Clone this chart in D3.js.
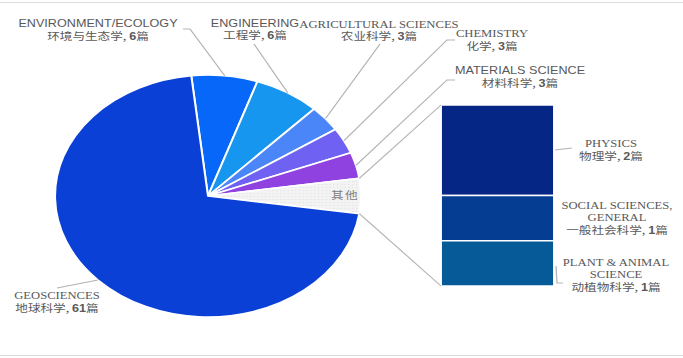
<!DOCTYPE html>
<html>
<head>
<meta charset="utf-8">
<script src="https://cdn.jsdelivr.net/npm/d3@7"></script>
<style>
  body { margin: 0; background: #fff; }
  svg { display: block; }
</style>
</head>
<body>
<svg id="chart" width="683" height="358"></svg>
<script>
// ---- data ----
const pieCategories = ["ENVIRONMENT/ECOLOGY", "ENGINEERING", "AGRICULTURAL SCIENCES", "CHEMISTRY", "MATERIALS SCIENCE", "其他", "GEOSCIENCES"];
const pieCnNames = ["环境与生态学", "工程学", "农业科学", "化学", "材料科学", "其他", "地球科学"];
const pieValues = [6, 6, 3, 3, 3, 4, 61];
const barCategories = [["PHYSICS"], ["SOCIAL SCIENCES,", "GENERAL"], ["PLANT & ANIMAL", "SCIENCE"]];
const barCnNames = ["物理学", "一般社会科学", "动植物科学"];
const barValues = [2, 1, 1];

// ---- styles ----
const pieColors = ["#0667f8", "#1796f0", "#4b86f8", "#6f62f2", "#8f42e0", "url(#dots)", "#0a40d6"];
const barColors = ["#062685", "#053d93", "#075a98"];
const textColor = "#595959";
const lineColor = "#b3b3b3";
const sx = 1.264;            // horizontal stretch of the whole picture
const X = x => x / sx;

const svg = d3.select("#chart");
const defs = svg.append("defs");
const pat = defs.append("pattern").attr("id", "dots").attr("patternUnits", "userSpaceOnUse")
  .attr("width", 3).attr("height", 3);
pat.append("rect").attr("width", 3).attr("height", 3).attr("fill", "#f3f3f3");
pat.append("rect").attr("width", 1).attr("height", 1).attr("fill", "#e2e2e2");

svg.append("line").attr("x1", 0).attr("x2", 683).attr("y1", 2.5).attr("y2", 2.5).attr("stroke", "#dcdcdc");
svg.append("line").attr("x1", 0).attr("x2", 683).attr("y1", 355.5).attr("y2", 355.5).attr("stroke", "#dcdcdc");

const g = svg.append("g").attr("transform", `scale(${sx},1)`);

const cx = X(208), cy = 196, r = 121;
const total = d3.sum(pieValues);
const otherIdx = 5;
const beforeOther = d3.sum(pieValues.slice(0, otherIdx)) + pieValues[otherIdx] / 2;
const start = Math.PI / 2 - beforeOther / total * 2 * Math.PI;

const pie = d3.pie().sort(null).value(d => d).startAngle(start).endAngle(start + 2 * Math.PI);
const arcs = pie(pieValues);
const arc = d3.arc().innerRadius(0).outerRadius(r);

const pg = g.append("g").attr("transform", `translate(${cx},${cy})`);
pg.selectAll("path").data(arcs).join("path")
  .attr("d", arc)
  .attr("fill", (d, i) => pieColors[i])
  .attr("stroke", "#fff").attr("stroke-width", 1.6).attr("stroke-linejoin", "round");

// ---- bar of pie ----
const barX0 = X(441), barX1 = X(554);
const yBar = d3.scaleLinear().domain([0, d3.sum(barValues)]).range([105, 286]);
const stack = d3.cumsum([0, ...barValues]);
g.selectAll("rect.bar").data(barValues).join("rect").attr("class", "bar")
  .attr("x", barX0).attr("width", barX1 - barX0)
  .attr("y", (d, i) => yBar(stack[i]))
  .attr("height", (d, i) => yBar(stack[i + 1]) - yBar(stack[i]))
  .attr("fill", (d, i) => barColors[i])
  .attr("stroke", "#fff").attr("stroke-width", 1.5);

// connector lines
const oa = arcs[otherIdx];
const pt = a => [cx + r * Math.sin(a), cy - r * Math.cos(a)];
const pA = pt(oa.startAngle), pB = pt(oa.endAngle);
g.append("line").attr("x1", pA[0]).attr("y1", pA[1]).attr("x2", barX0).attr("y2", yBar(0))
  .attr("stroke", lineColor).attr("stroke-width", 1);
g.append("line").attr("x1", pB[0]).attr("y1", pB[1]).attr("x2", barX0).attr("y2", yBar(d3.sum(barValues)))
  .attr("stroke", lineColor).attr("stroke-width", 1);

// ---- leader lines ----
const mid = i => pt((arcs[i].startAngle + arcs[i].endAngle) / 2);
const leaders = [
  [[183, 29], [190, 29], "p0"],
  [[254, 44], "p1"],
  [[380, 44], "p2"],
  [[455, 40], [447, 40], "p3"],
  [[455, 80], [447, 80], "p4"],
  [[57, 288], "p6"]
];
const lineGen = d3.line();
leaders.forEach(L => {
  const pts = L.map(p => typeof p === "string" ? mid(+p.slice(1)) : [X(p[0]), p[1]]);
  g.append("path").attr("d", lineGen(pts)).attr("fill", "none").attr("stroke", lineColor).attr("stroke-width", 1);
});
g.append("path").attr("d", lineGen([[X(555), 150], [X(572), 148]])).attr("fill", "none").attr("stroke", lineColor);
g.append("path").attr("d", lineGen([[X(556), 266], [X(557), 283], [X(563), 283]])).attr("fill", "none").attr("stroke", lineColor);

// ---- labels ----
const SANS = "'Liberation Sans', Arial, sans-serif";
const SERIF = "'Liberation Serif', 'Times New Roman', serif";
const CJK = "'Noto Sans CJK SC', sans-serif";
function label(x, ys, enLines, cn, val, font) {
  const t = g.append("g").attr("fill", textColor).attr("font-size", 10).attr("text-anchor", "middle");
  enLines.forEach((s, k) => {
    t.append("text").attr("x", X(x)).attr("y", ys[k]).attr("font-family", font).text(s);
  });
  const c = t.append("text").attr("x", X(x)).attr("y", ys[enLines.length]).attr("font-family", CJK);
  c.append("tspan").text(cn + ", ");
  c.append("tspan").attr("font-family", SANS).attr("font-weight", "bold").text(val);
  c.append("tspan").text("篇");
}
label(98, [27, 40], [pieCategories[0]], pieCnNames[0], pieValues[0], SANS);
label(255, [27, 39], [pieCategories[1]], pieCnNames[1], pieValues[1], SANS);
label(379, [28, 40], [pieCategories[2]], pieCnNames[2], pieValues[2], SERIF);
label(492, [37, 50], [pieCategories[3]], pieCnNames[3], pieValues[3], SERIF);
label(520, [74, 87], [pieCategories[4]], pieCnNames[4], pieValues[4], SANS);
label(57, [299, 312], [pieCategories[6]], pieCnNames[6], pieValues[6], SERIF);
label(611, [147, 160], barCategories[0], barCnNames[0], barValues[0], SERIF);
label(617, [209, 221, 234], barCategories[1], barCnNames[1], barValues[1], SERIF);
label(616, [266, 278, 291], barCategories[2], barCnNames[2], barValues[2], SERIF);

g.append("text").attr("x", X(345)).attr("y", 199).attr("text-anchor", "middle")
  .attr("font-family", CJK).attr("font-size", 10).attr("letter-spacing", 1)
  .attr("fill", "#808080").text(pieCategories[5]);
</script>
</body>
</html>
